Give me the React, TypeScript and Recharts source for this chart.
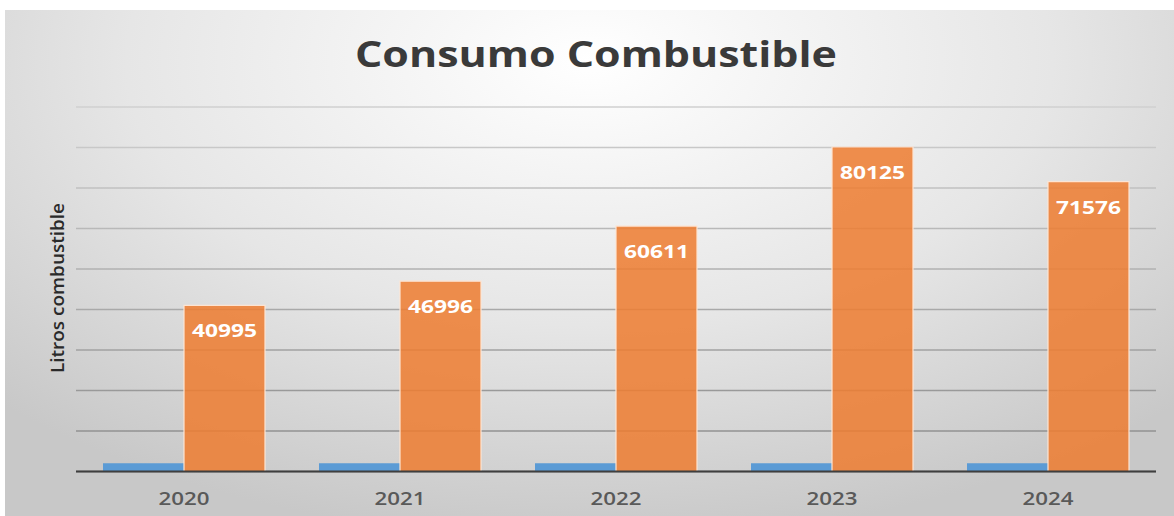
import React from "react";
import { BarChart, Bar, XAxis, YAxis, CartesianGrid, LabelList } from "recharts";

const years = ["2020", "2021", "2022", "2023", "2024"];
const yearSeries = [2020, 2021, 2022, 2023, 2024];
const fuelLiters = [40995, 46996, 60611, 80125, 71576];
const yTicks = [0, 10000, 20000, 30000, 40000, 50000, 60000, 70000, 80000, 90000];

const chartTitle = "Consumo Combustible";
const yAxisTitle = "Litros  combustible";

const data = years.map((y, i) => ({ year: y, yearValue: yearSeries[i], fuel: fuelLiters[i] }));

const FONT = "'Open Sans', 'DejaVu Sans', sans-serif";

const XTick = (props: any) => {
  const { x, y, payload } = props;
  return (
    <text
      x={x}
      y={y + 25}
      textAnchor="middle"
      fill="#595959"
      fontFamily={FONT}
      fontWeight={600}
      fontSize={18}
      textLength={51}
      lengthAdjust="spacingAndGlyphs"
    >
      {payload.value}
    </text>
  );
};

const FuelLabel = (props: any) => {
  const { x, y, width, value } = props;
  return (
    <text
      x={x + width / 2}
      y={y + 32}
      textAnchor="middle"
      fill="#ffffff"
      fontFamily={FONT}
      fontWeight={700}
      fontSize={18}
      textLength={65}
      lengthAdjust="spacingAndGlyphs"
    >
      {value}
    </text>
  );
};

export default function App() {
  return (
    <div style={{ position: "absolute", left: 0, top: 0, width: 1174, height: 516, background: "#ffffff", overflow: "hidden" }}>
      <div
        style={{
          position: "absolute",
          left: 5,
          top: 10,
          width: 1169,
          height: 506,
          background: "radial-gradient(ellipse 72% 95% at 50% 10%, #ffffff 0%, #e6e6e6 55%, #c8c8c8 100%)",
        }}
      />
      <div style={{ position: "absolute", left: 0, top: 0 }}>
        <BarChart
          width={1174}
          height={516}
          data={data}
          margin={{ top: 107, right: 18, bottom: 14.5, left: 76 }}
          barGap={0}
          barSize={81}
        >
          <defs>
            <linearGradient id="gridGrad" gradientUnits="userSpaceOnUse" x1="0" y1="107" x2="0" y2="471">
              <stop offset="0%" stopColor="#d0d0d0" />
              <stop offset="100%" stopColor="#8a8a8a" />
            </linearGradient>
          </defs>
          <CartesianGrid vertical={false} stroke="url(#gridGrad)" strokeWidth={1.3} />
          <YAxis hide domain={[0, 90000]} ticks={yTicks} />
          <XAxis
            dataKey="year"
            height={30}
            axisLine={{ stroke: "#3f3f3f", strokeWidth: 2.2 }}
            tickLine={false}
            tick={<XTick />}
            interval={0}
          />
          <Bar dataKey="yearValue" fill="#5B9BD5" isAnimationActive={false} />
          <Bar
            dataKey="fuel"
            fill="#ED7D31"
            fillOpacity={0.86}
            stroke="#fde4d2"
            strokeWidth={1.2}
            isAnimationActive={false}
          >
            <LabelList dataKey="fuel" content={<FuelLabel />} />
          </Bar>
        </BarChart>
      </div>
      <svg width={1174} height={516} style={{ position: "absolute", left: 0, top: 0, pointerEvents: "none" }}>
        <text
          x={596}
          y={66.7}
          textAnchor="middle"
          fill="#3a3a3a"
          fontFamily={FONT}
          fontWeight={700}
          fontSize={36}
          textLength={482}
          lengthAdjust="spacingAndGlyphs"
        >
          {chartTitle}
        </text>
        <text
          transform="translate(63.5, 288) rotate(-90)"
          textAnchor="middle"
          fill="#2a2a2a"
          fontFamily={FONT}
          fontWeight={600}
          fontSize={18}
          textLength={170}
          lengthAdjust="spacingAndGlyphs"
        >
          {yAxisTitle}
        </text>
      </svg>
    </div>
  );
}
